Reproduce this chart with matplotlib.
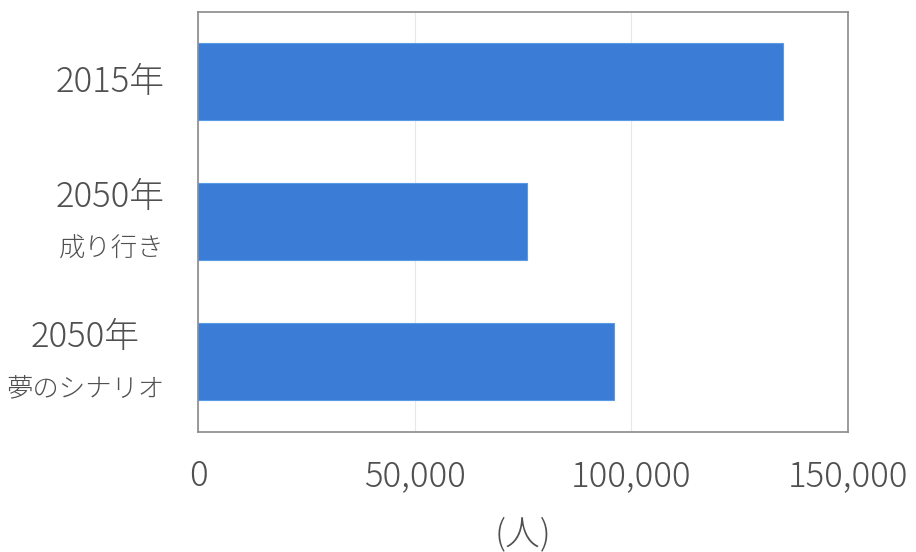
import matplotlib
matplotlib.use("Agg")
from matplotlib import pyplot as plt
from matplotlib.ticker import FuncFormatter

plt.rcParams['font.family'] = ['Noto Sans CJK JP', 'DejaVu Sans']

# population (people) for each scenario
labels_top = ["2015年", "2050年", "2050年"]
labels_sub = ["", "成り行き", "夢のシナリオ"]
values = [135000, 76000, 96000]
x_ticks = [0, 50000, 100000, 150000]

text_grey = "#505050"
weight = "light"

fig = plt.figure(figsize=(9.16, 5.52), dpi=100)
ax = fig.add_axes([0.2162, 0.2174, 0.7096, 0.7609])

ypos = list(range(len(values)))
ax.barh(ypos, values, height=0.55, color="#3b7dd6", edgecolor="#5a9be6",
        linewidth=0.8, zorder=2)

ax.set_xlim(0, 150000)
ax.set_ylim(len(values) - 0.5, -0.5)
ax.set_xticks(x_ticks)
ax.xaxis.set_major_formatter(FuncFormatter(lambda v, p: f"{int(v):,}"))
ax.grid(axis="x", color="#e8e8e8", linewidth=0.8, zorder=0)

ax.set_yticks(ypos)
ax.set_yticklabels([])

ax.tick_params(axis="both", length=0, colors=text_grey, labelsize=25)
ax.tick_params(axis="x", pad=19)
for t in ax.get_xticklabels():
    t.set_fontweight(weight)

for sp in ax.spines.values():
    sp.set_color("#8a8a8a")
    sp.set_linewidth(1.2)

ax.set_xlabel("(人)", color=text_grey, fontsize=25, fontweight=weight,
              labelpad=16)

# category labels: year line above a smaller scenario line, centred on each other
fig.canvas.draw()
renderer = fig.canvas.get_renderer()
inv = ax.transAxes.inverted()
for y, top, sub in zip(ypos, labels_top, labels_sub):
    kw = dict(xycoords=("axes fraction", "data"), textcoords="offset points",
              color=text_grey, fontweight=weight, va="center")
    if not sub:
        ax.annotate(top, (0, y), xytext=(-24, 0), ha="right", fontsize=25, **kw)
        continue
    s = ax.annotate(sub, (0, y), xytext=(-24, -19), ha="right", fontsize=19, **kw)
    bb = s.get_window_extent(renderer)
    sub_w = inv.transform((bb.x1, 0))[0] - inv.transform((bb.x0, 0))[0]
    t = ax.annotate(top, (0, y), xytext=(-24, 18), ha="right", fontsize=25, **kw)
    tb = t.get_window_extent(renderer)
    top_w = inv.transform((tb.x1, 0))[0] - inv.transform((tb.x0, 0))[0]
    if top_w < sub_w:
        t.set_horizontalalignment("center")
        t.xy = (-(24 / 72 * fig.dpi) / ax.bbox.width - sub_w / 2, y)
        t.xyann = (0, 18)

fig.savefig("out.png", dpi=100)
